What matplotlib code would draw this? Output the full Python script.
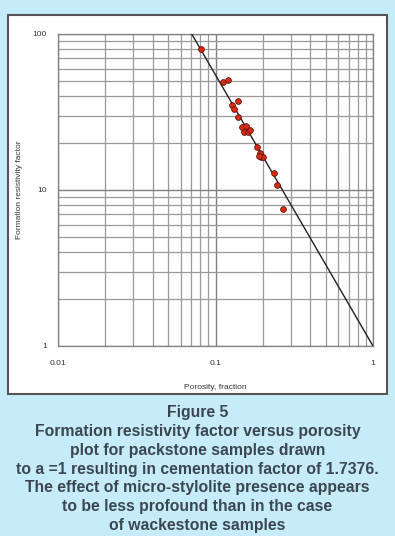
import numpy as np
import matplotlib.pyplot as plt
from matplotlib.patches import Rectangle
from matplotlib.ticker import FixedLocator, LogLocator, NullFormatter

# porosity (fraction) and formation resistivity factor
porosity = [0.081, 0.111, 0.120, 0.128, 0.131, 0.138, 0.138, 0.148, 0.156, 0.151,
            0.162, 0.165, 0.184, 0.192, 0.195, 0.201, 0.188, 0.236, 0.247, 0.269]
ff = [79.8, 49.0, 50.5, 35.0, 33.0, 37.2, 29.2, 25.2, 25.7, 23.4,
      23.7, 24.2, 18.8, 17.2, 16.2, 16.3, 16.5, 12.9, 10.7, 7.6]

m_cem = 1.7376  # cementation factor, a = 1
fit_phi = [100 ** (-1 / m_cem), 1.0]
fit_ff = [p ** (-m_cem) for p in fit_phi]

xticks = [0.01, 0.1, 1]
xtick_labels = ["0.01", "0.1", "1"]
yticks = [1, 10, 100]
ytick_labels = ["1", "10", "100"]

caption = ("Figure 5\n"
           "Formation resistivity factor versus porosity\n"
           "plot for packstone samples drawn\n"
           "to a =1 resulting in cementation factor of 1.7376.\n"
           "The effect of micro-stylolite presence appears\n"
           "to be less profound than in the case\n"
           "of wackestone samples")

plt.rcParams['font.family'] = ['Liberation Sans', 'DejaVu Sans']

W, H = 395, 536
fig = plt.figure(figsize=(W / 100, H / 100), dpi=100)
fig.patch.set_facecolor('#c6ecf9')

# white panel behind the chart
fig.add_artist(Rectangle((8 / W, 1 - 394 / H), 379 / W, 379 / H,
                         transform=fig.transFigure, facecolor='white',
                         edgecolor='#555555', lw=1.5, zorder=-5))

ax = fig.add_axes([58 / W, 1 - 346 / H, 315 / W, 312 / H])
ax.set_facecolor('none')
ax.set_xscale('log')
ax.set_yscale('log')
ax.set_xlim(0.01, 1)
ax.set_ylim(1, 100)

ax.xaxis.set_major_locator(FixedLocator(xticks))
ax.yaxis.set_major_locator(FixedLocator(yticks))
ax.set_xticklabels(xtick_labels)
ax.set_yticklabels(ytick_labels)
ax.xaxis.set_minor_locator(LogLocator(base=10, subs=np.arange(2, 10)))
ax.yaxis.set_minor_locator(LogLocator(base=10, subs=np.arange(2, 10)))
ax.xaxis.set_minor_formatter(NullFormatter())
ax.yaxis.set_minor_formatter(NullFormatter())
ax.tick_params(which='both', length=0, labelsize=6, colors='#333333')
ax.tick_params(axis='x', pad=10)
ax.tick_params(axis='y', pad=8)

ax.grid(which='minor', color='#999999', lw=0.9)
ax.grid(which='major', color='#808080', lw=1.0)
ax.set_axisbelow(True)
for s in ax.spines.values():
    s.set_color('#808080')
    s.set_linewidth(0.9)

ax.plot(fit_phi, fit_ff, color='#222222', lw=1.0, zorder=3)
ax.scatter(porosity, ff, s=17, color='#dd2a15', edgecolor='#5a1208',
           linewidth=0.6, zorder=4)

ax.set_xlabel("Porosity, fraction", fontsize=6, color='#333333', labelpad=12)
ax.set_ylabel("Formation resistivity factor", fontsize=6, color='#333333',
              labelpad=7)

fig.text(0.5, 1 - 405 / H, caption, ha='center', va='top', fontsize=11.3,
         fontweight='bold', color='#3b4650', linespacing=1.32)

fig.savefig('out.png', dpi=100, facecolor=fig.get_facecolor())
